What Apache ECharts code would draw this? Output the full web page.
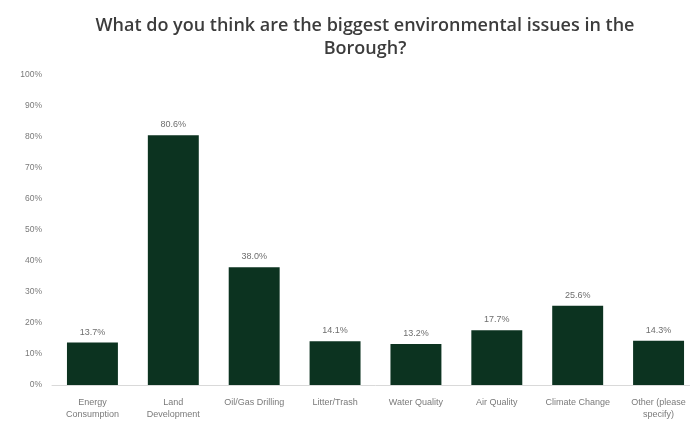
<!DOCTYPE html>
<html>
<head>
<meta charset="utf-8">
<script src="https://cdn.jsdelivr.net/npm/echarts@6/dist/echarts.min.js"></script>
<style>
  html, body { margin: 0; padding: 0; background: #ffffff; overflow: hidden; }
  /* the plot runs slightly past the right edge of the window */
  #chart { width: 700px; height: 421px; }
</style>
</head>
<body>
<div id="chart"></div>
<script>
// Survey responses: share of respondents naming each issue
const categories = [
  'Energy\nConsumption',
  'Land\nDevelopment',
  'Oil/Gas Drilling',
  'Litter/Trash',
  'Water Quality',
  'Air Quality',
  'Climate Change',
  'Other (please\nspecify)'
];
const shares = [13.7, 80.6, 38.0, 14.1, 13.2, 17.7, 25.6, 14.3];
const yTicks = [0, 10, 20, 30, 40, 50, 60, 70, 80, 90, 100];

const chart = echarts.init(document.getElementById('chart'));
chart.setOption({
  animation: false,
  backgroundColor: '#ffffff',
  title: {
    text: 'What do you think are the biggest environmental issues in the\nBorough?',
    left: 360,
    textAlign: 'center',
    top: 9,
    textStyle: {
      fontFamily: 'Open Sans',
      fontSize: 18,
      fontWeight: 600,
      color: '#3c3c3c',
      lineHeight: 23
    }
  },
  grid: { left: 52, top: 75, width: 647, height: 310, containLabel: false },
  xAxis: {
    type: 'category',
    data: categories,
    axisLine: { lineStyle: { color: '#d9d9d9', width: 1 } },
    axisTick: { show: false },
    axisLabel: {
      interval: 0,
      color: '#7a7a7a',
      fontFamily: 'Liberation Sans',
      fontSize: 9,
      lineHeight: 12,
      margin: 12
    }
  },
  yAxis: {
    type: 'value',
    min: yTicks[0],
    max: yTicks[yTicks.length - 1],
    interval: 10,
    splitLine: { show: false },
    axisLine: { show: false },
    axisTick: { show: false },
    axisLabel: {
      color: '#7a7a7a',
      fontFamily: 'Liberation Sans',
      fontSize: 8.5,
      margin: 10,
      formatter: v => v + '%'
    }
  },
  series: [{
    type: 'bar',
    data: shares,
    barCategoryGap: '37%',
    itemStyle: { color: '#0c3320' },
    label: {
      show: true,
      position: 'top',
      distance: 6,
      color: '#6e6e6e',
      fontFamily: 'Liberation Sans',
      fontSize: 9,
      formatter: p => p.value.toFixed(1) + '%'
    }
  }]
});
</script>
</body>
</html>
